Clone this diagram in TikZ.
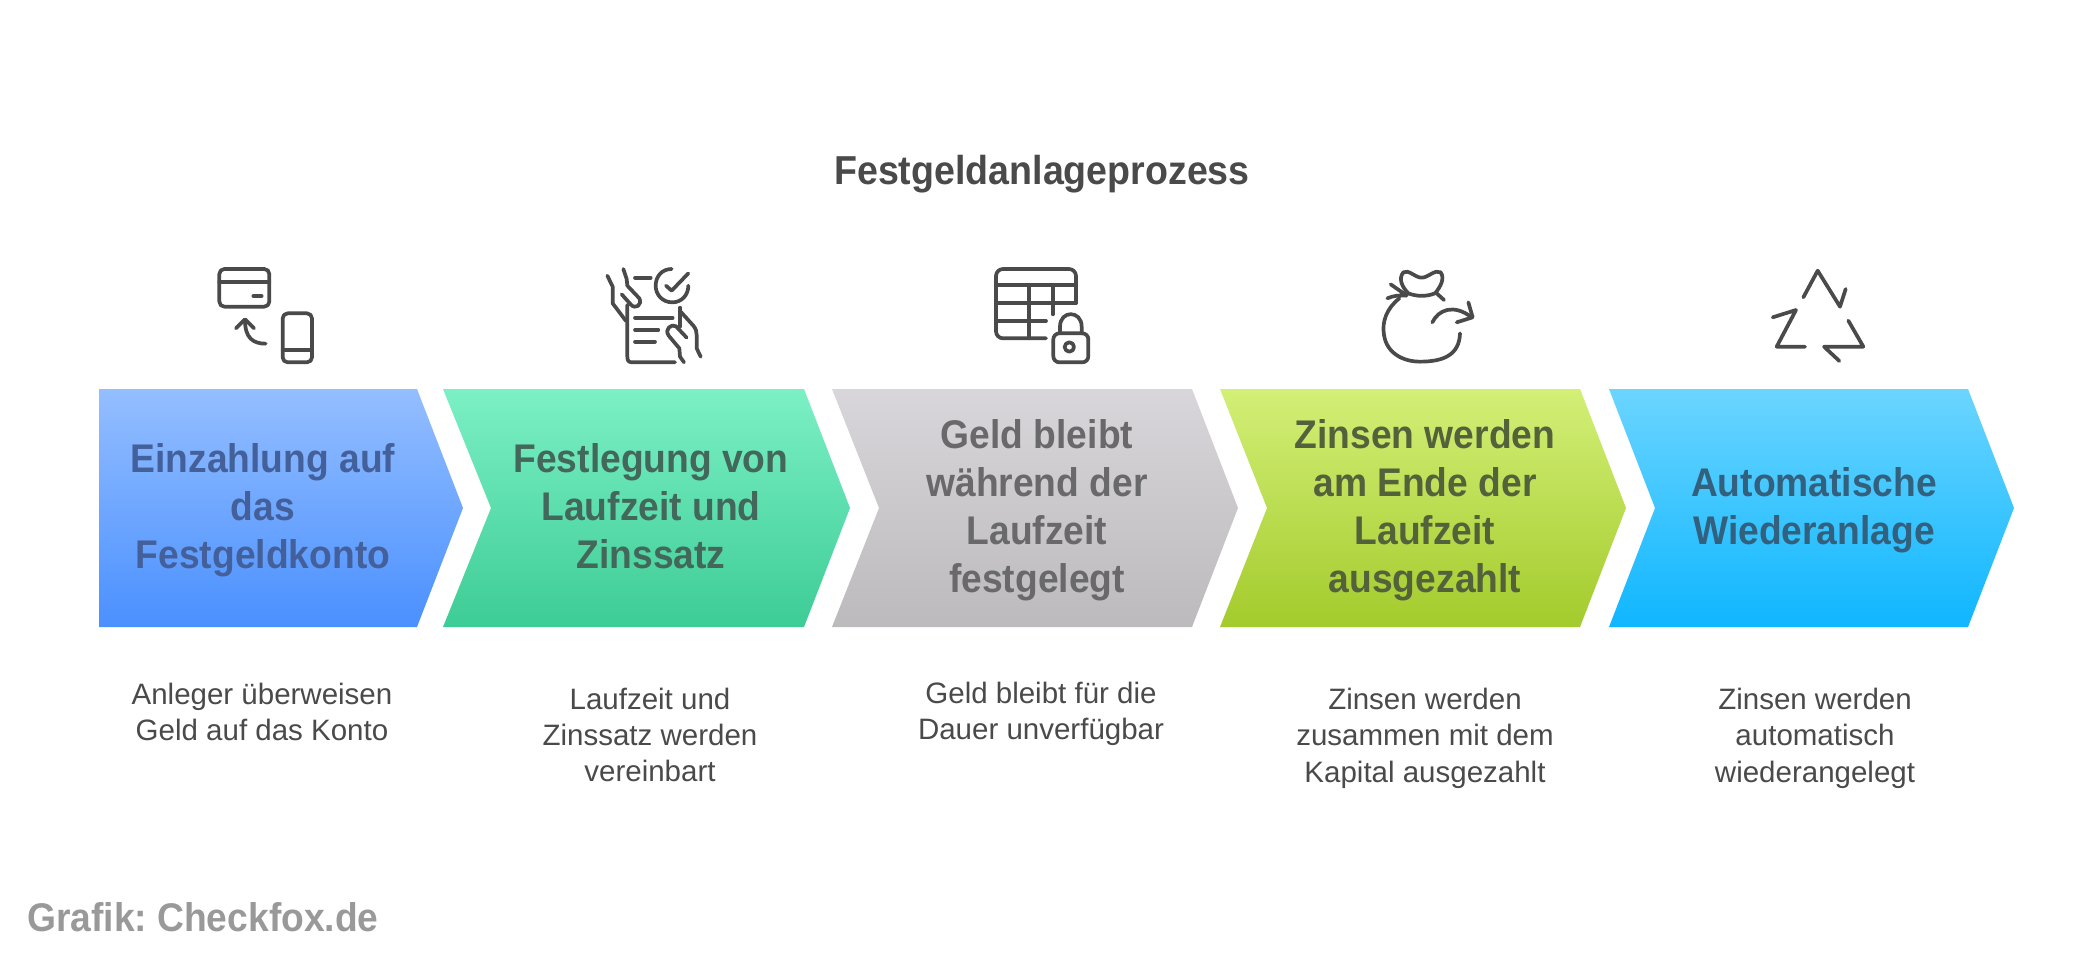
\documentclass[tikz,border=0pt]{standalone}
\usepackage{fontspec}
\setmainfont{Liberation Sans}
\newfontfamily\hb[FakeStretch=0.93]{Liberation Sans Bold}
\newfontfamily\bd{Liberation Sans}
\definecolor{ink}{HTML}{4A4A4A}
\tikzset{
  chevtext/.style={font=\hb\fontsize{40}{48}\selectfont,align=center,inner sep=0pt},
  bodytext/.style={font=\bd\fontsize{29.5}{36.4}\selectfont,align=center,inner sep=0pt,text=ink},
  icon/.style={draw=ink,line width=3.7pt,line cap=round,line join=round,x=0.3333pt,y=-0.3333pt},
}
\begin{document}
\frenchspacing
\begin{tikzpicture}[x=1pt,y=-1pt]
\useasboundingbox (0,0) rectangle (2084,964);
\fill[white] (0,0) rectangle (2084,964);
\node[font=\hb\fontsize{40.4}{48}\selectfont,text=ink,inner sep=0pt] (title) at (1042,174) {Festgeldanlageprozess};
% chevrons
\shade[top color={rgb,255:red,148;green,190;blue,255},bottom color={rgb,255:red,74;green,144;blue,255}] (99,389) -- (417,389) -- (463,508) -- (417,627) -- (99,627) -- cycle;
\shade[top color={rgb,255:red,124;green,240;blue,197},bottom color={rgb,255:red,61;green,204;blue,150}] (443,389) -- (804,389) -- (850,508) -- (804,627) -- (443,627) -- (491,508) -- cycle;
\shade[top color={rgb,255:red,216;green,214;blue,218},bottom color={rgb,255:red,188;green,186;blue,188}] (832,389) -- (1192,389) -- (1238,508) -- (1192,627) -- (832,627) -- (879,508) -- cycle;
\shade[top color={rgb,255:red,211;green,239;blue,119},bottom color={rgb,255:red,163;green,203;blue,44}] (1220,389) -- (1580,389) -- (1626,508) -- (1580,627) -- (1220,627) -- (1267,508) -- cycle;
\shade[top color={rgb,255:red,107;green,213;blue,255},bottom color={rgb,255:red,15;green,182;blue,255}] (1609,389) -- (1968,389) -- (2014,508) -- (1968,627) -- (1609,627) -- (1655,508) -- cycle;
% chevron labels
\node[chevtext,text={rgb,255:red,68;green,96;blue,154}] (c1) at (263,510) {Einzahlung auf\\das\\Festgeldkonto};
\node[chevtext,text={rgb,255:red,67;green,103;blue,90}] (c2) at (651,506) {Festlegung von\\Laufzeit und\\Zinssatz};
\node[chevtext,text={rgb,255:red,105;green,105;blue,107}] (c3) at (1037,510) {Geld bleibt\\während der\\Laufzeit\\festgelegt};
\node[chevtext,text={rgb,255:red,84;green,98;blue,60}] (c4) at (1425,510) {Zinsen werden\\am Ende der\\Laufzeit\\ausgezahlt};
\node[chevtext,text={rgb,255:red,50;green,96;blue,125}] (c5) at (1814,510) {Automatische\\Wiederanlage};
% descriptions
\node[bodytext] (d1) at (262,712) {Anleger überweisen\\Geld auf das Konto};
\node[bodytext] (d2) at (650,735) {Laufzeit und\\Zinssatz werden\\vereinbart};
\node[bodytext] (d3) at (1041,714) {Geld bleibt für die\\Dauer unverfügbar};
\node[bodytext] (d4) at (1425,738) {Zinsen werden\\zusammen mit dem\\Kapital ausgezahlt};
\node[bodytext] (d5) at (1815,738) {Zinsen werden\\automatisch\\wiederangelegt};
\node[font=\hb\fontsize{40}{44}\selectfont,text={rgb,255:red,153;green,153;blue,153},inner sep=0pt,anchor=west] (credit) at (27,917) {Grafik: Checkfox.de};
% icon 1
\begin{scope}[xshift=200pt,yshift=-255pt]
\draw[icon,rounded corners=5pt] (58,42) rectangle (208,155);
\draw[icon] (58,82) -- (208,82) (160,123) -- (185,123);
\draw[icon,rounded corners=5pt] (248,175) rectangle (336,322);
\draw[icon] (248,285) -- (336,285);
\draw[icon] (197,266) .. controls (160,266) and (135,250) .. (135,195);
\draw[icon] (108,220) -- (135,193) -- (162,220);
\end{scope}
% icon 2
\begin{scope}[xshift=590pt,yshift=-255pt]
\draw[icon] (52,62) -- (68,95) -- (68,145) -- (108,198);
\draw[icon] (100,42) -- (110,72) -- (112,92) -- (148,130) .. controls (158,150) and (135,165) .. (122,148) -- (95,118);
\draw[icon] (112,150) -- (112,305) .. controls (112,318) and (116,322) .. (128,322) -- (255,322);
\draw[icon] (135,68) -- (182,68) (135,188) -- (248,188) (135,225) -- (205,225) (135,260) -- (195,260);
\draw[icon] (245,42) .. controls (215,42) and (197,65) .. (197,92) .. controls (197,120) and (218,142) .. (247,142) .. controls (275,142) and (295,120) .. (295,92);
\draw[icon] (228,92) -- (245,107) -- (295,55);
\draw[icon] (270,158) -- (270,215);
\draw[icon] (272,170) -- (310,212) .. controls (318,222) and (320,230) .. (320,240) -- (320,280) -- (332,305);
\draw[icon] (290,248) -- (258,214) .. controls (245,205) and (222,222) .. (236,242) -- (268,280) -- (270,305) -- (282,322);
\end{scope}
% icon 3
\begin{scope}[xshift=980pt,yshift=-255pt]
\draw[icon,rounded corners=7pt] (198,250) -- (48,250) -- (48,42) -- (288,42) -- (288,145);
\draw[icon] (48,90) -- (288,90) (48,145) -- (288,145) (48,198) -- (198,198) (148,90) -- (148,250) (218,90) -- (218,178);
\draw[icon,rounded corners=6pt] (220,235) rectangle (325,322);
\draw[icon] (240,235) -- (240,215) .. controls (240,165) and (305,165) .. (305,215) -- (305,235);
\draw[icon] (268,276) circle[radius=4.7pt];
\end{scope}
% icon 4
\begin{scope}[xshift=1370pt,yshift=-255pt]
\draw[icon] (115,115) .. controls (95,95) and (85,70) .. (100,52) .. controls (115,42) and (135,68) .. (155,68) .. controls (175,68) and (195,42) .. (212,52) .. controls (225,70) and (212,95) .. (195,115) .. controls (170,125) and (140,125) .. (115,115) -- cycle;
\draw[icon] (62,88) -- (105,118) (52,130) .. controls (70,122) and (90,120) .. (110,122) (200,115) -- (222,135);
\draw[icon] (88,130) .. controls (50,160) and (35,200) .. (42,240) .. controls (50,295) and (100,320) .. (150,320) .. controls (220,320) and (268,300) .. (270,235);
\draw[icon] (187,202) .. controls (205,165) and (250,145) .. (305,187);
\draw[icon] (295,142) -- (308,187) -- (260,202);
\end{scope}
% icon 5
\begin{scope}[xshift=1760pt,yshift=-255pt]
\draw[icon] (130,127) -- (173,47) -- (240,155) -- (257,102);
\draw[icon] (38,187) -- (108,165) -- (50,275) -- (135,275);
\draw[icon] (265,197) -- (310,275) -- (192,275) -- (238,318);
\end{scope}
\end{tikzpicture}
\end{document}
